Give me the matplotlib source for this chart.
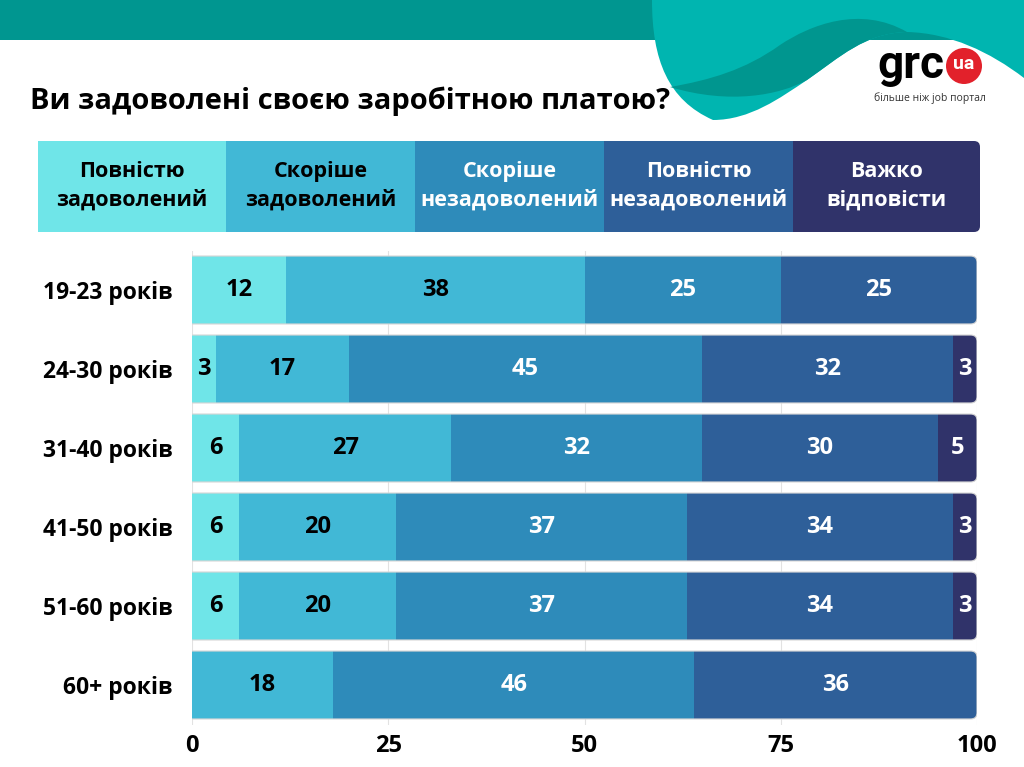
import numpy as np
import matplotlib.pyplot as plt
from matplotlib.patches import Rectangle, FancyBboxPatch, PathPatch, Circle
from matplotlib.path import Path

plt.rcParams['font.family'] = ['Open Sans', 'DejaVu Sans']

title = 'Ви задоволені своєю заробітною платою?'
groups = ['19-23 років', '24-30 років', '31-40 років', '41-50 років', '51-60 років', '60+ років']
categories = ['Повністю\nзадоволений', 'Скоріше\nзадоволений', 'Скоріше\nнезадоволений',
              'Повністю\nнезадоволений', 'Важко\nвідповісти']

# значення у відсотках, по рядках груп
full_sat = [12, 3, 6, 6, 6, 0]
rather_sat = [38, 17, 27, 20, 20, 18]
rather_unsat = [25, 45, 32, 37, 37, 46]
full_unsat = [25, 32, 30, 34, 34, 36]
hard = [0, 3, 5, 3, 3, 0]
xticks = [0, 25, 50, 75, 100]

series = [full_sat, rather_sat, rather_unsat, full_unsat, hard]
colors = ['#6fe5e8', '#41b8d6', '#2e8bba', '#2e5f99', '#30336a']
text_colors = ['black', 'black', 'white', 'white', 'white']

fig = plt.figure(figsize=(10.24, 7.67), dpi=100)

# фон, шапка і логотип у піксельних координатах
bg = fig.add_axes([0, 0, 1, 1], zorder=0)
bg.set_xlim(0, 1024)
bg.set_ylim(767, 0)
bg.axis('off')

bg.add_patch(Rectangle((0, 0), 1024, 40, color='#009690', lw=0))

M, C, L, Z = Path.MOVETO, Path.CURVE4, Path.LINETO, Path.CLOSEPOLY
light = [(652, 0), (652, 60), (668, 100), (713, 120),
         (750, 120), (780, 98), (807, 80),
         (840, 57), (865, 33), (907, 32),
         (950, 33), (990, 52), (1024, 78),
         (1024, 0), (652, 0)]
bg.add_patch(PathPatch(Path(light, [M, C, C, C, C, C, C, C, C, C, C, C, C, L, Z]),
                       fc='#00b5b0', lw=0))
band = [(670, 87), (710, 80), (745, 70), (780, 45),
        (810, 25), (860, 5), (907, 32),
        (865, 33), (840, 57), (807, 80),
        (780, 95), (730, 105), (670, 87)]
bg.add_patch(PathPatch(Path(band, [M, C, C, C, C, C, C, C, C, C, C, C, Z]),
                       fc='#00968f', lw=0))

bg.text(911, 78, 'grc', fontsize=33, fontweight='bold', family=['Roboto', 'DejaVu Sans'],
        ha='center', va='baseline', color='black')
bg.add_patch(Circle((964, 66), 18, color='#e2212b', lw=0))
bg.text(964, 64, 'ua', fontsize=14, fontweight='bold', family=['Roboto', 'DejaVu Sans'],
        ha='center', va='center', color='white')
bg.text(930, 98, 'більше ніж job портал', fontsize=7.5, ha='center', va='center', color='#333333')

bg.text(30, 101, title, fontsize=21, fontweight='bold', va='center', ha='left')

# легенда
edges = [38, 226, 415, 604, 793, 980]
bg.add_patch(FancyBboxPatch((edges[3] + 20, 141), edges[5] - edges[3] - 20, 91,
                            boxstyle='round,pad=0,rounding_size=6', fc=colors[4], ec='none'))
for k in range(4):
    bg.add_patch(Rectangle((edges[k], 141), edges[k + 1] - edges[k], 91, fc=colors[k], lw=0))
for k, cat in enumerate(categories):
    bg.text((edges[k] + edges[k + 1]) / 2, 186, cat, fontsize=15.5, fontweight='bold',
            ha='center', va='center', color=text_colors[k], linespacing=1.45)

# основний графік
ax = fig.add_axes([192 / 1024, 1 - 724.5 / 767, 785 / 1024, 474 / 767], zorder=1)
ax.patch.set_alpha(0)
y = np.arange(len(groups))
h = 0.86
aspect = (785 / 100) / 79

clips = []
for i in y:
    clip = FancyBboxPatch((-5, i - h / 2), 105, h,
                          boxstyle='round,pad=0,rounding_size=0.8',
                          mutation_aspect=aspect, fc='none', ec='#d5d5d5', lw=0.8, zorder=3)
    ax.add_patch(clip)
    clips.append(clip)

left = np.zeros(len(groups))
for vals, c, tc in zip(series, colors, text_colors):
    vals = np.array(vals)
    bars = ax.barh(y, vals, left=left, height=h, color=c, lw=0, zorder=2)
    for i, b in enumerate(bars):
        b.set_clip_path(clips[i])
        if vals[i] > 0:
            ax.text(left[i] + vals[i] / 2, i, str(vals[i]), ha='center', va='center',
                    fontsize=17, fontweight='bold', color=tc, zorder=4)
    left += vals

ax.set_xlim(0, 100)
ax.set_ylim(len(groups) - 0.5, -0.5)
ax.set_xticks(xticks)
ax.set_yticks(y)
ax.set_yticklabels(groups)
ax.grid(axis='x', color='#e2e2e2', lw=0.8)
ax.set_axisbelow(True)
ax.tick_params(length=0)
ax.tick_params(axis='x', pad=7, labelsize=17)
ax.tick_params(axis='y', pad=14, labelsize=16.5)
for lab in ax.get_xticklabels() + ax.get_yticklabels():
    lab.set_fontweight('bold')
for s in ax.spines.values():
    s.set_visible(False)

fig.savefig('out.png', dpi=100)
